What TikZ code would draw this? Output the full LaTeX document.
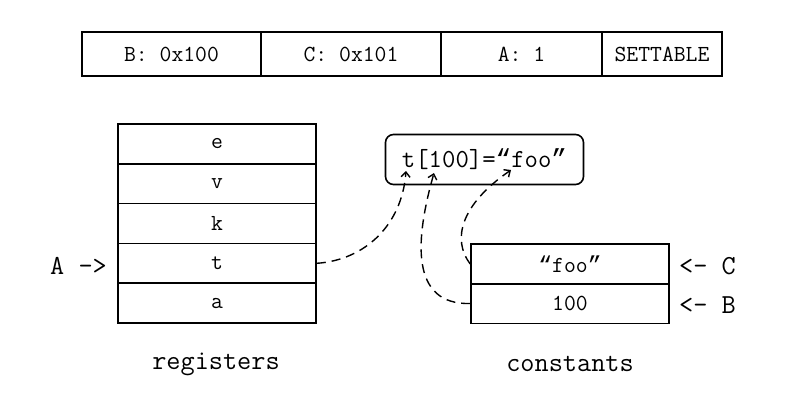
\documentclass[tikz,border=0pt]{standalone}
\usepackage{fontspec}
\newfontfamily\qfont{Liberation Mono}
\newcommand\myoq{{\qfont “}}
\newcommand\mycq{{\qfont ”}}
\usetikzlibrary{arrows.meta}
\begin{document}
\begin{tikzpicture}[x=1pt,y=-1pt,
  box/.style={draw, line width=1.6pt, inner sep=0pt, font=\ttfamily\fontsize{23}{27}\selectfont},
  cell/.style={box, minimum width=198pt, minimum height=39.8pt},
  big/.style={font=\ttfamily\fontsize{27.5}{31}\selectfont, inner sep=0pt},
  link/.style={line width=1.4pt, dash pattern=on 9pt off 6pt, -{Straight Barb[length=5pt,width=9pt,line width=1.4pt]}}]
\useasboundingbox (0,0) rectangle (800,400);
% top bar
\node[box, minimum width=179pt, minimum height=44pt] (b) at (171.5,54) {B: 0x100};
\node[box, minimum width=180pt, minimum height=44pt] (c) at (351,54) {C: 0x101};
\node[box, minimum width=161pt, minimum height=44pt] (a) at (521.5,54) {A: 1};
\node[box, minimum width=120pt, minimum height=44pt] (s) at (662,54) {SETTABLE};
% registers
\node[cell] (re) at (217,143.9) {e};
\node[cell] (rv) at (217,183.7) {v};
\node[cell] (rk) at (217,223.5) {k};
\node[cell] (rt) at (217,263.3) {t};
\node[cell] (ra) at (217,303.1) {a};
\node[big] (la) at (78.5,266) {A ->};
\node[big] (lreg) at (216,364) {registers};
% constants
\node[cell] (cfoo) at (570,264) {\myoq foo\mycq};
\node[cell] (c100) at (570,303.5) {100};
\node[big] (lc) at (707.5,266) {<- C};
\node[big] (lb) at (707.5,305) {<- B};
\node[big] (lcon) at (570,364) {constants};
% expression
\node[draw, line width=1.6pt, rounded corners=8pt, minimum width=198pt, minimum height=50pt, font=\ttfamily\fontsize{26}{30}\selectfont] (expr) at (484.5,159.5) {t[100]=\myoq foo\mycq};
\coordinate (pt) at (406,171);
\coordinate (p1) at (434,173);
\coordinate (pq) at (511,170);
\draw[link] (rt.east) .. controls (365,260) and (402,225) .. (pt);
\draw[link] (c100.west) .. controls (410,305) and (415,240) .. (p1);
\draw[link] (cfoo.west) .. controls (452,240) and (460,205) .. (pq);
\end{tikzpicture}
\end{document}
